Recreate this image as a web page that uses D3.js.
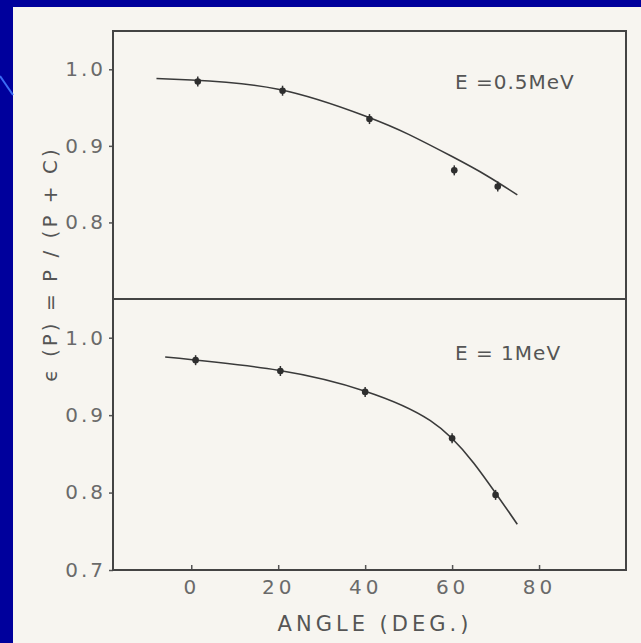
<!DOCTYPE html>
<html>
<head>
<meta charset="utf-8">
<script src="https://cdn.jsdelivr.net/npm/d3@7"></script>
<style>
  body { margin: 0; background: #00009c; }
  svg { display: block; }
  text { font-family: "DejaVu Sans", sans-serif; }
</style>
</head>
<body>
<div id="chart"></div>
<script>
// values
var anglesA = [1.5, 21, 41, 60.5, 70.5];
var effA = [0.984, 0.972, 0.935, 0.868, 0.847];
var anglesB = [1, 20.5, 40, 60, 70];
var effB = [0.971, 0.957, 0.930, 0.870, 0.797];

// hand-drawn fit curves
var fitAnglesA = [-8, 0, 20, 40, 50, 60, 68, 75];
var fitA = [0.988, 0.986, 0.974, 0.939, 0.915, 0.886, 0.861, 0.836];
var fitAnglesB = [-6, 20, 40, 55, 65, 75];
var fitB = [0.975, 0.958, 0.931, 0.893, 0.838, 0.759];

var xTicks = [0, 20, 40, 60, 80];
var yTicksA = [0.8, 0.9, 1.0];
var yTicksB = [0.7, 0.8, 0.9, 1.0];
var labelA = "E =0.5MeV";
var labelB = "E = 1MeV";

var width = 641, height = 643;
var svg = d3.select("#chart").append("svg")
    .attr("width", width)
    .attr("height", height);

// paper
svg.append("rect")
    .attr("x", 13).attr("y", 7)
    .attr("width", width - 13).attr("height", height - 7)
    .attr("fill", "#f7f5f0");

// slide decoration line
svg.append("line")
    .attr("x1", 0).attr("y1", 76).attr("x2", 13).attr("y2", 95)
    .attr("stroke", "#3b6cf5").attr("stroke-width", 2);

var plotLeft = 113, plotRight = 626, plotTop = 31, plotMid = 299, plotBottom = 570;

var x = d3.scaleLinear().domain([-18, 100]).range([plotLeft, plotRight]);
var yA = d3.scaleLinear().domain([0.7, 1.05]).range([plotMid, plotTop]);
var yB = d3.scaleLinear().domain([0.7, 1.05]).range([plotBottom, plotMid]);

function panel(y, ticks, angles, vals, fitX, fitY, label, labelY) {
    var g = svg.append("g");

    var yAxis = g.append("g")
        .attr("transform", "translate(" + plotLeft + ",0)")
        .call(d3.axisLeft(y).tickValues(ticks).tickFormat(d3.format(".1f"))
            .tickSizeInner(4).tickSizeOuter(0).tickPadding(3));
    yAxis.select(".domain").remove();
    yAxis.selectAll("line").attr("stroke", "#555").attr("stroke-width", 1.5);
    yAxis.selectAll("text")
        .attr("fill", "#6a6a6a")
        .style("font-size", "20px")
        .style("letter-spacing", "3px");

    var fitData = fitX.map(function (d, i) {return [d, fitY[i]];});
    g.append("path")
        .datum(fitData)
        .attr("fill", "none")
        .attr("stroke", "#3a3a3a")
        .attr("stroke-width", 1.6)
        .attr("d", d3.line()
            .x(function (d) {return x(d[0]);})
            .y(function (d) {return y(d[1]);})
            .curve(d3.curveNatural));

    var pts = angles.map(function (d, i) {return [d, vals[i]];});
    var p = g.selectAll(".pt")
        .data(pts)
        .enter()
        .append("g")
        .attr("class", "pt")
        .attr("transform", function (d) {return "translate(" + x(d[0]) + "," + y(d[1]) + ")";});
    p.append("line")
        .attr("y1", -5).attr("y2", 5)
        .attr("stroke", "#333").attr("stroke-width", 1.5);
    p.append("circle")
        .attr("r", 3.3)
        .attr("fill", "#2e2e2e");

    g.append("text")
        .attr("x", 455).attr("y", labelY)
        .attr("fill", "#555")
        .style("font-size", "20px")
        .style("letter-spacing", "1px")
        .text(label);
}

panel(yA, yTicksA, anglesA, effA, fitAnglesA, fitA, labelA, 89);
panel(yB, yTicksB, anglesB, effB, fitAnglesB, fitB, labelB, 360);

// x axis with inward ticks
var xAxis = svg.append("g")
    .attr("transform", "translate(0," + plotBottom + ")")
    .call(d3.axisBottom(x).tickValues(xTicks).tickSizeInner(-5).tickSizeOuter(0).tickPadding(10));
xAxis.select(".domain").remove();
xAxis.selectAll("line").attr("stroke", "#555").attr("stroke-width", 1.5);
xAxis.selectAll("text")
    .attr("fill", "#6a6a6a")
    .style("font-size", "20px")
    .style("letter-spacing", "4px");

// frame and divider
svg.append("rect")
    .attr("x", plotLeft).attr("y", plotTop)
    .attr("width", plotRight - plotLeft).attr("height", plotBottom - plotTop)
    .attr("fill", "none")
    .attr("stroke", "#444")
    .attr("stroke-width", 2);
svg.append("line")
    .attr("x1", plotLeft).attr("x2", plotRight)
    .attr("y1", plotMid).attr("y2", plotMid)
    .attr("stroke", "#444")
    .attr("stroke-width", 2);

svg.append("text")
    .attr("x", 375).attr("y", 631)
    .attr("text-anchor", "middle")
    .attr("fill", "#555")
    .style("font-size", "21px")
    .style("letter-spacing", "4px")
    .text("ANGLE (DEG.)");

svg.append("text")
    .attr("transform", "translate(57,264) rotate(-90)")
    .attr("text-anchor", "middle")
    .attr("fill", "#555")
    .style("font-size", "20px")
    .style("letter-spacing", "3px")
    .text("ϵ (P) = P / (P + C)");
</script>
</body>
</html>
